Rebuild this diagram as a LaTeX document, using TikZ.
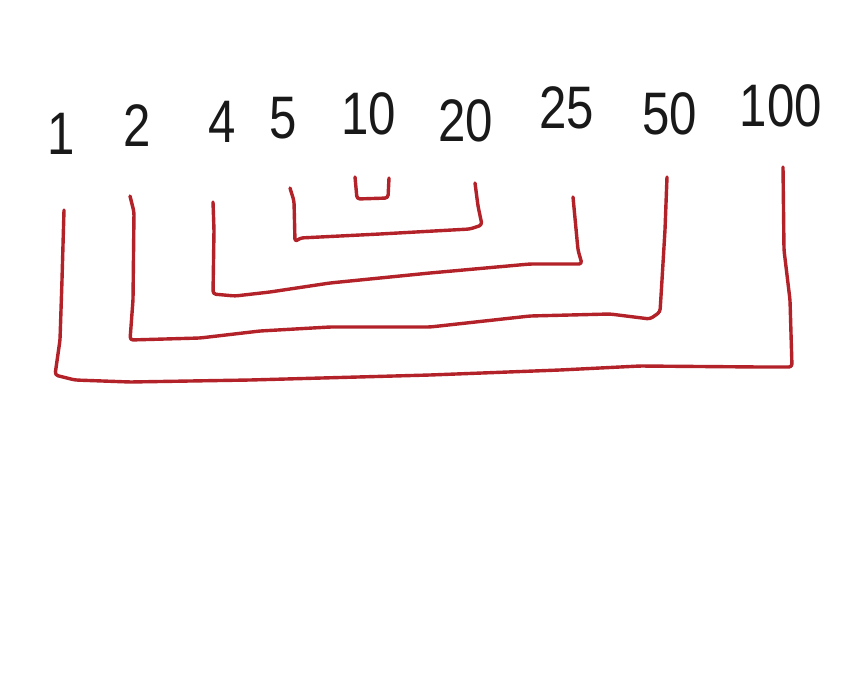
\documentclass[tikz,border=0pt]{standalone}
\usepackage{fontspec}
\setmainfont{Liberation Sans}
\definecolor{penred}{RGB}{178,34,40}
\definecolor{penblack}{RGB}{25,25,25}
\newcommand{\hw}[1]{\scalebox{0.82}[1]{#1}}
\begin{document}
\begin{tikzpicture}[x=1pt,y=-1pt,
  num/.style={inner sep=0pt,text=penblack,font=\fontsize{60}{66}\selectfont},
  br/.style={draw=penred,line width=3.4pt,line join=round,line cap=round,rounded corners=3pt}]
\useasboundingbox[fill=white] (0,0) rectangle (860,675);
% numbers
\node[num] (n1) at (61,134) {\hw{1}};
\node[num] (n2) at (137,126) {\hw{2}};
\node[num] (n4) at (222,122) {\hw{4}};
\node[num] (n5) at (283,118) {\hw{5}};
\node[num] (n10) at (369,114) {\hw{10}};
\node[num] (n20) at (466,121) {\hw{20}};
\node[num] (n25) at (567,108) {\hw{25}};
\node[num] (n50) at (670,114) {\hw{50}};
\node[num] (n100) at (781,106) {\hw{100}};
% bracket 10-10
\coordinate (a1) at (355,177);
\coordinate (a2) at (389,178);
\draw[br] (a1) -- (357,199) -- (388,198) -- (a2);
% bracket 5-20
\coordinate (b1) at (290,188);
\coordinate (b2) at (475,183);
\draw[br] (b1) -- (294,201) -- (295,242) -- (300,238) -- (380,234) -- (470,229) -- (482,225) -- (478,206) -- (b2);
% bracket 4-25
\coordinate (c1) at (213,202);
\coordinate (c2) at (573,197);
\draw[br] (c1) -- (214,230) -- (213,294) -- (235,296) -- (270,292) -- (330,283) -- (430,273) -- (530,264) -- (582,264) -- (578,250) -- (c2);
% bracket 2-50
\coordinate (d1) at (130,196);
\coordinate (d2) at (667,177);
\draw[br] (d1) -- (134,212) -- (133,300) -- (130,340) -- (200,338) -- (260,331) -- (330,327) -- (430,327) -- (530,316) -- (610,314) -- (650,319) -- (660,312) -- (662,280) -- (665,230) -- (d2);
% bracket 1-100
\coordinate (e1) at (64,210);
\coordinate (e2) at (783,167);
\draw[br] (e1) -- (62,280) -- (60,340) -- (55,375) -- (75,380) -- (130,382) -- (250,380) -- (430,375) -- (560,370) -- (640,366) -- (760,367) -- (792,367) -- (790,300) -- (784,250) -- (e2);
\end{tikzpicture}
\end{document}
